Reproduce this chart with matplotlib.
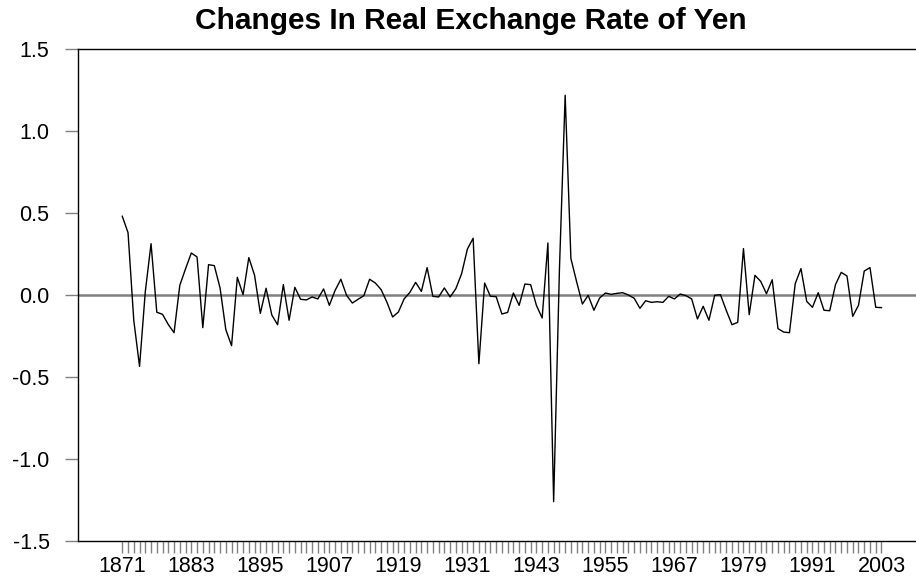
import numpy as np
import matplotlib
matplotlib.use("Agg")
import matplotlib.pyplot as plt

plt.rcParams["font.family"] = ["Liberation Sans", "DejaVu Sans"]

#yearly changes in the real exchange rate of the yen, 1871-2003
first_year = 1871
last_year = 2003
changes = [
    0.48, 0.38, -0.155, -0.435, 0.02, 0.313, -0.105, -0.118, -0.18, -0.23,
    0.059, 0.16, 0.256, 0.232, -0.199, 0.185, 0.179, 0.043, -0.211, -0.309,
    0.108, 0.002, 0.228, 0.12, -0.112, 0.041, -0.122, -0.181, 0.063, -0.154,
    0.047, -0.026, -0.030, -0.012, -0.024, 0.037, -0.063, 0.028, 0.096, -0.002,
    -0.049, -0.026, -0.004, 0.096, 0.073, 0.033, -0.043, -0.134, -0.104, -0.024,
    0.016, 0.077, 0.022, 0.167, -0.008, -0.012, 0.043, -0.012, 0.039, 0.130,
    0.280, 0.346, -0.419, 0.073, -0.008, -0.010, -0.116, -0.106, 0.012, -0.063,
    0.067, 0.063, -0.063, -0.140, 0.317, -1.26, 0.15, 1.218, 0.222, 0.08,
    -0.055, -0.002, -0.093, -0.018, 0.012, 0.004, 0.010, 0.014, 0.0, -0.020,
    -0.081, -0.035, -0.045, -0.041, -0.045, -0.008, -0.024, 0.006, -0.004, -0.024,
    -0.146, -0.069, -0.154, -0.002, 0.002, -0.093, -0.181, -0.167, 0.283, -0.120,
    0.120, 0.083, 0.008, 0.093, -0.205, -0.226, -0.230, 0.069, 0.161, -0.039,
    -0.075, 0.014, -0.093, -0.096, 0.063, 0.138, 0.116, -0.130, -0.063, 0.146,
    0.167, -0.075, -0.077,
]
years = np.arange(first_year, last_year + 1)
label_years = list(range(1871, 2004, 12))
y_ticks = [-1.5, -1.0, -0.5, 0.0, 0.5, 1.0, 1.5]

W, H = 916, 581
fig = plt.figure(figsize=(W / 100, H / 100), dpi=100)
ax = fig.add_axes([78 / W, (H - 541) / H, 1 - 78 / W, (541 - 49) / H])

ax.axhline(0, color="#808080", lw=1.8, zorder=1)
ax.plot(years, changes, color="black", lw=1.0, zorder=2)

ax.set_xlim(1863.3, 2009.0)
ax.set_ylim(-1.5, 1.5)

ax.set_yticks(y_ticks)
ax.set_yticklabels(["%.1f" % v for v in y_ticks])
ax.set_xticks(label_years)
ax.set_xticklabels([str(y) for y in label_years])
ax.set_xticks(years, minor=True)

ax.tick_params(axis="y", direction="out", length=9.5, width=1.0, color="#808080",
               pad=11, labelsize=15.5)
ax.tick_params(axis="x", which="both", direction="out", length=8.5, width=1.0,
               color="#808080", pad=2.5, labelsize=15.5)

for side in ["left", "top", "bottom"]:
    ax.spines[side].set_color("black")
    ax.spines[side].set_linewidth(1.0)
ax.spines["right"].set_visible(False)

fig.text(471 / W, 1 - 21 / H, "Changes In Real Exchange Rate of Yen",
         ha="center", va="center", fontsize=21.5, fontweight="bold")

fig.savefig("out.png", dpi=100)
